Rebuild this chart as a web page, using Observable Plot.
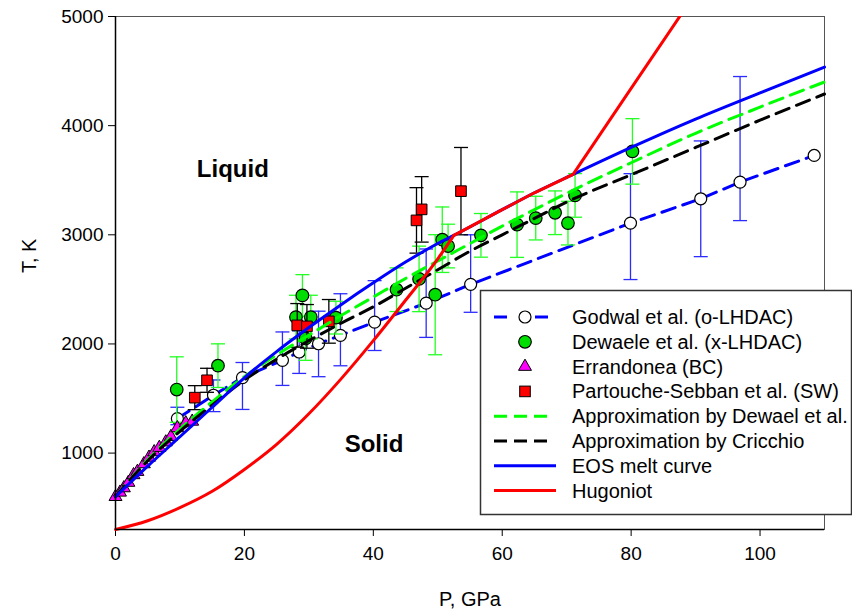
<!DOCTYPE html>
<html><head><meta charset="utf-8">
<script src="https://cdn.jsdelivr.net/npm/d3@7"></script>
<script src="https://cdn.jsdelivr.net/npm/@observablehq/plot@0.6"></script>
<style>
body{margin:0;background:#fff;}
#chart{width:852px;height:615px;}
</style></head><body><div id="chart"></div>
<script>
// Godwal et al. (o-LHDAC)
const godwalP  = [9.6, 15.2, 19.7, 25.9, 28.5, 31.5, 34.9, 40.2, 48.2, 55.1, 79.9, 90.8, 96.9, 108.4];
const godwalT  = [1316, 1530, 1692, 1850, 1926, 2002, 2079, 2200, 2374, 2546, 3107, 3330, 3483, 3727];
const godwalLo = [1260, 1380, 1400, 1620, 1730, 1700, 1800, 1940, 2060, 2290, 2590, 2800, 3130, null];
const godwalHi = [1420, 1670, 1830, 2110, 2120, 2300, 2460, 2580, 2870, 3000, 3560, 3860, 4450, null];
// Dewaele et al. (x-LHDAC)
const dewP   = [9.5, 15.9, 28.0, 29.0, 29.5, 30.3, 34.2, 43.6, 47.1, 49.6, 50.7, 51.6, 56.7, 62.3, 65.2, 68.2, 70.2, 71.3, 80.2];
const dewT   = [1582, 1801, 2246, 2445, 2050, 2246, 2241, 2497, 2596, 2451, 2955, 2897, 2995, 3093, 3153, 3202, 3107, 3361, 3764];
const dewErr = [300, 200, 200, 190, 200, 200, 150, 200, 300, 550, 300, 200, 200, 300, 200, 200, 200, 200, 300];
// Errandonea (BC)
const errP = [0, 0.7, 1.3, 2.0, 2.8, 3.4, 4.4, 5.2, 6.0, 6.8, 7.8, 8.6, 9.6, 10.9, 11.9];
const errT = [600, 640, 680, 730, 800, 830, 900, 960, 1010, 1050, 1100, 1150, 1230, 1275, 1290];
// Partouche-Sebban et al. (SW)
const psP   = [12.3, 14.2, 28.2, 29.7, 33.1, 46.7, 47.5, 53.6];
const psT   = [1508, 1667, 2170, 2161, 2207, 3132, 3233, 3400];
const psErr = [110, 110, 200, 200, 200, 300, 300, 400];
// Approximation curves
const fitP     = [0, 5, 10, 15, 20, 25, 30, 35, 40, 45, 50, 55, 60, 65, 70, 80, 90, 100, 110];
const dewFitT  = [600, 940, 1220, 1470, 1700, 1900, 2080, 2260, 2430, 2600, 2760, 2920, 3080, 3230, 3380, 3660, 3930, 4170, 4400];
const cricFitT = [600, 930, 1200, 1440, 1670, 1860, 2030, 2190, 2340, 2510, 2680, 2850, 3000, 3150, 3300, 3550, 3800, 4050, 4290];
// EOS melt curve
const eosP = [0, 5, 10, 15, 20, 25, 30, 35, 40, 45, 50, 52.5, 60, 65, 71, 80, 90, 100, 110];
const eosT = [600, 880, 1150, 1420, 1690, 1930, 2150, 2360, 2560, 2750, 2920, 2995, 3230, 3385, 3553, 3800, 4060, 4300, 4536];
// Hugoniot: solid branch (smooth) and branch from the melt curve onward
const hugSolidP = [0, 5, 10, 15, 20, 25, 30, 35, 40, 45, 50, 52.5];
const hugSolidT = [300, 380, 500, 650, 850, 1080, 1360, 1680, 2030, 2400, 2780, 2995];
const hugMeltP  = [52.5, 60, 65, 71, 79, 88];
const hugMeltT  = [2995, 3230, 3385, 3553, 4255, 5040];
// Region labels
const regionText = ["Liquid", "Solid"];
const regionP = [18.2, 40.1];
const regionT = [3600, 1080];
// Axes
const xTicks = [0, 20, 40, 60, 80, 100];
const yTicks = [1000, 2000, 3000, 4000, 5000];
const legendLabels = ["Godwal et al. (o-LHDAC)", "Dewaele et al. (x-LHDAC)", "Errandonea (BC)",
  "Partouche-Sebban et al. (SW)", "Approximation by Dewael et al.", "Approximation by Cricchio",
  "EOS melt curve", "Hugoniot"];

const godwal = godwalP.map((P, i) => ({P, T: godwalT[i], lo: godwalLo[i], hi: godwalHi[i]}));
const godwalBars = godwal.filter(d => d.lo != null);
const dew = dewP.map((P, i) => ({P, T: dewT[i], lo: dewT[i] - dewErr[i], hi: dewT[i] + dewErr[i]}));
const errD = errP.map((P, i) => ({P, T: errT[i]}));
const ps = psP.map((P, i) => ({P, T: psT[i], lo: psT[i] - psErr[i], hi: psT[i] + psErr[i]}));
const dewFit = fitP.map((P, i) => ({P, T: dewFitT[i]}));
const cricFit = fitP.map((P, i) => ({P, T: cricFitT[i]}));
const eos = eosP.map((P, i) => ({P, T: eosT[i]}));
const hugSolid = hugSolidP.map((P, i) => ({P, T: hugSolidT[i]}));
const hugMelt = hugMeltP.map((P, i) => ({P, T: hugMeltT[i]}));
const regions = regionText.map((t, i) => ({t, P: regionP[i], T: regionT[i]}));

const cap = {draw(ctx) { ctx.moveTo(-7, 0); ctx.lineTo(7, 0); }};
function bars(data, color) {
  return [
    Plot.ruleX(data, {x: "P", y1: "lo", y2: "hi", stroke: color, strokeWidth: 1.3}),
    Plot.dot(data, {x: "P", y: "lo", symbol: cap, r: 3, fill: "none", stroke: color, strokeWidth: 1.3}),
    Plot.dot(data, {x: "P", y: "hi", symbol: cap, r: 3, fill: "none", stroke: color, strokeWidth: 1.3})
  ];
}
const DASH = "14,8";
const font = "'Liberation Sans', Arial, sans-serif";

const svg = Plot.plot({
  width: 852, height: 615,
  marginLeft: 115, marginRight: 28, marginTop: 16, marginBottom: 86,
  x: {domain: [0, 110]},
  y: {domain: [300, 5000]},
  style: {fontFamily: font, fontSize: "19px", color: "#000", background: "#fff", overflow: "visible"},
  marks: [
    Plot.frame({stroke: "#555", strokeWidth: 1}),
    Plot.axisX({ticks: xTicks, tickSize: 7, tickPadding: 10, label: null, tickFormat: d3.format("d")}),
    Plot.axisY({ticks: yTicks, tickSize: 7, tickPadding: 5, label: null, tickFormat: d3.format("d")}),
    Plot.text(["P, GPa"], {frameAnchor: "bottom", dy: 76, fontSize: 20}),
    Plot.text(["T, K"], {frameAnchor: "left", dx: -86, rotate: -90, fontSize: 20}),
    ...bars(godwalBars, "#2b2bff"),
    Plot.line(godwal, {x: "P", y: "T", stroke: "#0000ff", strokeWidth: 3, strokeDasharray: DASH}),
    Plot.dot(godwal, {x: "P", y: "T", r: 6, fill: "#fff", stroke: "#000", strokeWidth: 1.2}),
    ...bars(dew, "#22ff22"),
    Plot.dot(dew, {x: "P", y: "T", r: 6.3, fill: "#00dd00", stroke: "#000", strokeWidth: 1.2}),
    Plot.dot(errD, {x: "P", y: "T", r: 4.8, symbol: "triangle", fill: "#ff00ff", stroke: "#000", strokeWidth: 1}),
    ...bars(ps, "#000"),
    Plot.dot(ps, {x: "P", y: "T", r: 6, symbol: "square", fill: "#ff0000", stroke: "#000", strokeWidth: 1}),
    Plot.line(dewFit, {x: "P", y: "T", stroke: "#00ff00", strokeWidth: 3, strokeDasharray: DASH, curve: "monotone-x"}),
    Plot.line(cricFit, {x: "P", y: "T", stroke: "#000", strokeWidth: 3, strokeDasharray: DASH, curve: "monotone-x"}),
    Plot.line(eos, {x: "P", y: "T", stroke: "#0000ff", strokeWidth: 3, curve: "monotone-x"}),
    Plot.line(hugSolid, {x: "P", y: "T", stroke: "#ff0000", strokeWidth: 3, curve: "monotone-x"}),
    Plot.line(hugMelt, {x: "P", y: "T", stroke: "#ff0000", strokeWidth: 3, clip: true}),
    Plot.ruleX([0], {stroke: "#000", strokeWidth: 1.5}),
    Plot.ruleY([300], {stroke: "#000", strokeWidth: 1.5}),
    Plot.text(regions, {x: "P", y: "T", text: "t", fontSize: 24, fontWeight: "bold"})
  ]
});

// Legend drawn into the same SVG
const g = d3.select(svg).append("g").attr("font-family", font).attr("font-size", 20).attr("text-anchor", "start");
g.append("rect").attr("x", 480.5).attr("y", 290.5).attr("width", 371).attr("height", 224)
  .attr("fill", "#fff").attr("stroke", "#333").attr("stroke-width", 1.5);
const rowY = i => 317 + i * 24.8;
const sx = 525;
legendLabels.forEach((lab, i) => {
  g.append("text").attr("x", 572).attr("y", rowY(i)).attr("dy", "0.35em").attr("text-anchor", "start").text(lab);
});
// Godwal
g.append("line").attr("x1", 494).attr("x2", 507).attr("y1", rowY(0)).attr("y2", rowY(0)).attr("stroke", "#0000ff").attr("stroke-width", 3);
g.append("line").attr("x1", 535).attr("x2", 548).attr("y1", rowY(0)).attr("y2", rowY(0)).attr("stroke", "#0000ff").attr("stroke-width", 3);
g.append("circle").attr("cx", sx).attr("cy", rowY(0)).attr("r", 6).attr("fill", "#fff").attr("stroke", "#000").attr("stroke-width", 1.2);
g.append("circle").attr("cx", sx).attr("cy", rowY(1)).attr("r", 6.3).attr("fill", "#00dd00").attr("stroke", "#000").attr("stroke-width", 1.2);
g.append("path").attr("transform", `translate(${sx},${rowY(2)})`).attr("d", d3.symbol(d3.symbolTriangle, 4.8 * 4.8 * Math.PI)())
  .attr("fill", "#ff00ff").attr("stroke", "#000");
g.append("rect").attr("x", sx - 5.3).attr("y", rowY(3) - 5.3).attr("width", 10.6).attr("height", 10.6).attr("fill", "#ff0000").attr("stroke", "#000");
g.append("line").attr("x1", 494).attr("x2", 548).attr("y1", rowY(4)).attr("y2", rowY(4)).attr("stroke", "#00ff00").attr("stroke-width", 3).attr("stroke-dasharray", "13,7");
g.append("line").attr("x1", 494).attr("x2", 548).attr("y1", rowY(5)).attr("y2", rowY(5)).attr("stroke", "#000").attr("stroke-width", 3).attr("stroke-dasharray", "13,7");
g.append("line").attr("x1", 494).attr("x2", 556).attr("y1", rowY(6)).attr("y2", rowY(6)).attr("stroke", "#0000ff").attr("stroke-width", 3);
g.append("line").attr("x1", 494).attr("x2", 556).attr("y1", rowY(7)).attr("y2", rowY(7)).attr("stroke", "#ff0000").attr("stroke-width", 3);

document.getElementById("chart").append(svg);
</script></body></html>
